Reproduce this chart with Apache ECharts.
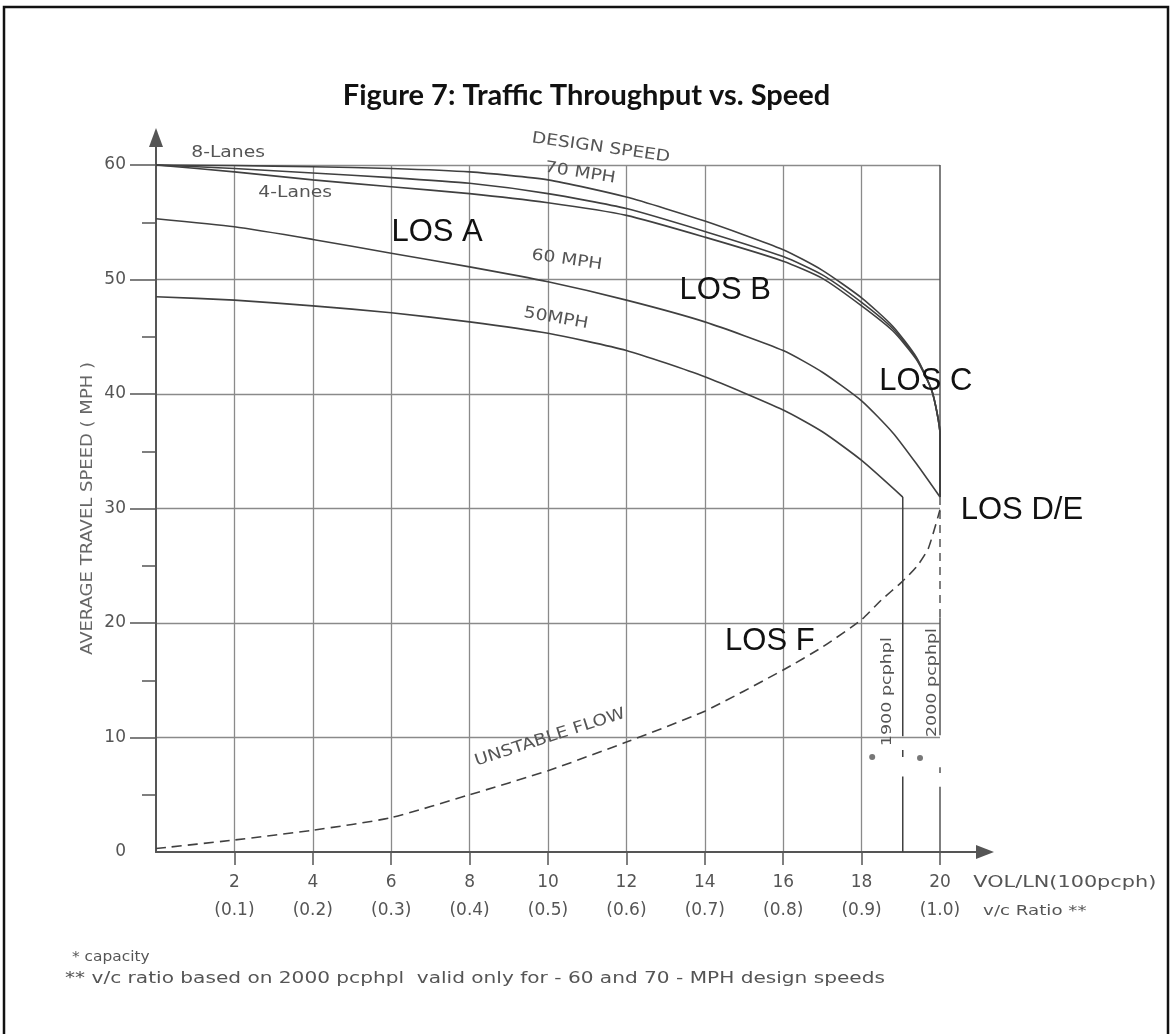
<!DOCTYPE html>
<html>
<head>
<meta charset="utf-8">
<title>Figure 7: Traffic Throughput vs. Speed</title>
<script src="https://cdn.jsdelivr.net/npm/echarts@6/dist/echarts.min.js"></script>
<style>
html, body { margin: 0; padding: 0; background: #fff; }
#main { width: 1173px; height: 1034px; }
</style>
</head>
<body>
<div id="main"></div>
<script>
// x: VOL/LN (100 pcph), y: average travel speed (mph)
var volTicks = [2, 4, 6, 8, 10, 12, 14, 16, 18, 20];
var vcTicks = ['(0.1)', '(0.2)', '(0.3)', '(0.4)', '(0.5)', '(0.6)', '(0.7)', '(0.8)', '(0.9)', '(1.0)'];
var speedTicks = [10, 20, 30, 40, 50, 60];

// 70 mph design speed
var mph70Lane8 = [[0, 60], [2, 59.95], [4, 59.85], [6, 59.7], [8, 59.4], [10, 58.7], [12, 57.2], [14, 55.1], [16, 52.6], [17, 50.8], [18, 48.4], [18.8, 45.9], [19.4, 43.2], [19.8, 40.2], [20, 36.5], [20, 31]];
var mph70Lane6 = [[0, 60], [2, 59.7], [4, 59.3], [6, 58.9], [8, 58.4], [10, 57.5], [12, 56.2], [14, 54.2], [16, 52.0], [17, 50.4], [18, 48.0], [18.8, 45.7], [19.4, 43.1], [19.8, 40.2], [20, 36.5], [20, 31]];
var mph70Lane4 = [[0, 60], [2, 59.4], [4, 58.7], [6, 58.1], [8, 57.5], [10, 56.7], [12, 55.6], [14, 53.7], [16, 51.6], [17, 50.1], [18, 47.7], [18.8, 45.5], [19.4, 43.0], [19.8, 40.2], [20, 36.5], [20, 31]];
// 60 and 50 mph
var mph60 = [[0, 55.3], [2, 54.6], [4, 53.5], [6, 52.3], [8, 51.1], [10, 49.8], [12, 48.2], [14, 46.3], [16, 43.8], [17, 41.9], [18, 39.4], [18.8, 36.6], [19.4, 33.9], [20, 31]];
var mph50 = [[0, 48.5], [2, 48.2], [4, 47.7], [6, 47.1], [8, 46.3], [10, 45.3], [12, 43.8], [14, 41.5], [16, 38.6], [17, 36.7], [18, 34.2], [19.05, 31.0]];
// unstable flow (dashed)
var unstableFlow = [[0, 0.3], [2, 1.05], [4, 1.9], [6, 3.0], [8, 5.0], [10, 7.1], [12, 9.6], [14, 12.3], [16, 15.9], [17, 17.9], [18, 20.3], [18.5, 22.0], [19, 23.5], [19.4, 24.9], [19.7, 26.5], [20, 29.9]];
// capacity lines
var cap1900 = [[[19.05, 31], [19.05, 10.1]], [[19.05, 8.9], [19.05, 8.3]], [[19.05, 6.6], [19.05, 0]]];
var cap2000 = [[[20, 60], [20, 31]], [[20, 20.5], [20, 10.2]], [[20, 7.4], [20, 6.9]], [[20, 5.7], [20, 0]]];
var cap2000Dash = [[20, 31], [20, 20.5]];
var capacityMarks = [[18.27, 8.3], [19.49, 8.2]];

// text on the plot: [text, x, y, rotate (deg), kind]
var notes = [
    ['AVERAGE TRAVEL SPEED ( MPH )', -1.73, 30, 90, 'yname'],
    ['8-Lanes', 1.84, 61.05, 0, 'small'],
    ['4-Lanes', 3.55, 57.55, 0, 'small'],
    ['DESIGN SPEED', 11.35, 61.5, -8, 'small'],
    ['70 MPH', 10.82, 59.3, -9, 'small'],
    ['60 MPH', 10.48, 51.7, -8, 'small'],
    ['50MPH', 10.2, 46.6, -10, 'small'],
    ['UNSTABLE FLOW', 10.05, 10.0, 18, 'small'],
    ['1900 pcphpl', 18.65, 14.0, 90, 'tiny'],
    ['2000 pcphpl', 19.8, 14.8, 90, 'tiny'],
    ['LOS A', 7.17, 54.15, 0, 'los'],
    ['LOS B', 14.52, 49.0, 0, 'los'],
    ['LOS C', 19.64, 41.1, 0, 'los'],
    ['LOS D/E', 22.09, 29.8, 0, 'los'],
    ['LOS F', 15.66, 18.4, 0, 'los'],
    ['VOL/LN(100pcph)', 20.85, -2.7, 0, 'axis'],
    ['v/c Ratio **', 21.1, -5.15, 0, 'axis2']
];

var noteStyle = {
    yname: { fill: '#666', fontSize: 15, fontFamily: 'DejaVu Sans', align: 'center', sx: 1.2 },
    small: { fill: '#555', fontSize: 16, fontFamily: 'DejaVu Sans', align: 'center', sx: 1.17 },
    tiny: { fill: '#555', fontSize: 14, fontFamily: 'DejaVu Sans', align: 'center', sx: 1.25 },
    los: { fill: '#111', fontSize: 31, fontFamily: 'Liberation Sans', align: 'center', sx: 1 },
    axis: { fill: '#555', fontSize: 16, fontFamily: 'DejaVu Sans', align: 'left', sx: 1.3 },
    axis2: { fill: '#555', fontSize: 14, fontFamily: 'DejaVu Sans', align: 'left', sx: 1.3 }
};

var curveColor = '#404040';
var gridColor = '#8a8a8a';

function curve(name, data, dashed) {
    return {
        name: name,
        type: 'line',
        data: data,
        smooth: 0.2,
        symbol: 'none',
        clip: false,
        lineStyle: { color: curveColor, width: 1.6, type: dashed ? [10, 6] : 'solid' },
        z: 3
    };
}

function straight(name, data, color, dashed) {
    return {
        name: name,
        type: 'line',
        data: data,
        symbol: 'none',
        clip: false,
        lineStyle: { color: color, width: 1.5, type: dashed ? [8, 6] : 'solid' },
        z: 2
    };
}

var series = [
    curve('70 MPH 8-Lanes', mph70Lane8),
    curve('70 MPH 6-Lanes', mph70Lane6),
    curve('70 MPH 4-Lanes', mph70Lane4),
    curve('60 MPH', mph60),
    curve('50 MPH', mph50),
    curve('Unstable flow', unstableFlow, true)
];
for (var i = 0; i < cap1900.length; i++) {
    series.push(straight('1900 pcphpl', cap1900[i], curveColor));
}
for (var j = 0; j < cap2000.length; j++) {
    series.push(straight('2000 pcphpl', cap2000[j], '#555'));
}
series.push(straight('2000 pcphpl', cap2000Dash, '#555', true));

series.push({
    name: 'capacity',
    type: 'scatter',
    data: capacityMarks,
    symbol: 'circle',
    symbolSize: 6,
    itemStyle: { color: '#555' },
    z: 4
});

var chart = echarts.init(document.getElementById('main'));
chart.setOption({
    animation: false,
    backgroundColor: '#fff',
    title: {
        text: 'Figure 7: Traffic Throughput vs. Speed',
        left: 'center',
        top: 76,
        textStyle: { fontFamily: 'Lato', fontWeight: 'bold', fontSize: 29, color: '#111' }
    },
    grid: { left: 156, top: 165, width: 784, height: 687, outerBoundsMode: 'none' },
    xAxis: {
        type: 'value',
        min: 0,
        max: 20,
        interval: 2,
        axisLine: { show: true, onZero: false, lineStyle: { color: '#555', width: 2 } },
        axisTick: { show: true, customValues: volTicks, length: 13, lineStyle: { color: '#555', width: 1.5 } },
        axisLabel: {
            customValues: volTicks,
            margin: 17,
            color: '#555',
            fontSize: 17,
            lineHeight: 28,
            fontFamily: 'DejaVu Sans',
            formatter: function (v) {
                var idx = volTicks.indexOf(v);
                return v + '\n' + vcTicks[idx];
            }
        },
        splitLine: { show: true, showMinLine: true, showMaxLine: false, lineStyle: { color: gridColor, width: 1.3 } }
    },
    yAxis: [{
        // grid lines and labels
        type: 'value',
        min: 0,
        max: 60,
        interval: 10,
        axisLine: { show: true, lineStyle: { color: '#555', width: 2 } },
        axisTick: { show: false },
        axisLabel: { margin: 30, color: '#555', fontSize: 17, fontFamily: 'DejaVu Sans' },
        splitLine: { show: true, showMinLine: false, lineStyle: { color: gridColor, width: 1.3 } }
    }, {
        // outside ticks only, none at 0
        type: 'value',
        position: 'left',
        min: 0,
        max: 60,
        interval: 10,
        axisLine: { show: false },
        axisLabel: { show: false },
        splitLine: { show: false },
        axisTick: { show: true, customValues: speedTicks, length: 26, lineStyle: { color: '#555', width: 1.5 } },
        minorTick: { show: true, splitNumber: 2, length: 14, lineStyle: { color: '#555', width: 1.5 } }
    }],
    series: series
});

// axis arrows, frame, plot notes and footnotes
var origin = chart.convertToPixel({ gridIndex: 0 }, [0, 0]);
var yTop = chart.convertToPixel({ gridIndex: 0 }, [0, 60]);
var xEnd = chart.convertToPixel({ gridIndex: 0 }, [20, 0]);
var ax = origin[0], ay = origin[1];
var graphics = [
    { type: 'rect', shape: { x: 4, y: 7, width: 1164, height: 1040 }, style: { fill: 'none', stroke: '#111', lineWidth: 2.5 } },
    { type: 'line', shape: { x1: ax, y1: yTop[1], x2: ax, y2: yTop[1] - 20 }, style: { stroke: '#555', lineWidth: 2 } },
    { type: 'polygon', shape: { points: [[ax, yTop[1] - 37], [ax - 7, yTop[1] - 18], [ax + 7, yTop[1] - 18]] }, style: { fill: '#555' } },
    { type: 'line', shape: { x1: xEnd[0], y1: ay, x2: xEnd[0] + 38, y2: ay }, style: { stroke: '#555', lineWidth: 2 } },
    { type: 'polygon', shape: { points: [[xEnd[0] + 54, ay], [xEnd[0] + 36, ay - 7], [xEnd[0] + 36, ay + 7]] }, style: { fill: '#555' } },
    { type: 'text', x: 72, y: 950, scaleX: 1.1, style: { text: '* capacity', fill: '#555', fontSize: 14, fontFamily: 'DejaVu Sans' } },
    { type: 'text', x: 65, y: 972, scaleX: 1.34, style: { text: '** v/c ratio based on 2000 pcphpl  valid only for - 60 and 70 - MPH design speeds', fill: '#555', fontSize: 15, fontFamily: 'DejaVu Sans' } }
];
for (var k = 0; k < notes.length; k++) {
    var n = notes[k];
    var st = noteStyle[n[4]];
    var p = chart.convertToPixel({ gridIndex: 0 }, [n[1], n[2]]);
    graphics.push({
        type: 'text',
        x: p[0],
        y: p[1],
        rotation: n[3] * Math.PI / 180,
        scaleX: st.sx,
        z: 10,
        style: {
            text: n[0],
            fill: st.fill,
            fontSize: st.fontSize,
            fontFamily: st.fontFamily,
            align: st.align,
            verticalAlign: 'middle'
        }
    });
}
chart.setOption({ graphic: graphics });
</script>
</body>
</html>
